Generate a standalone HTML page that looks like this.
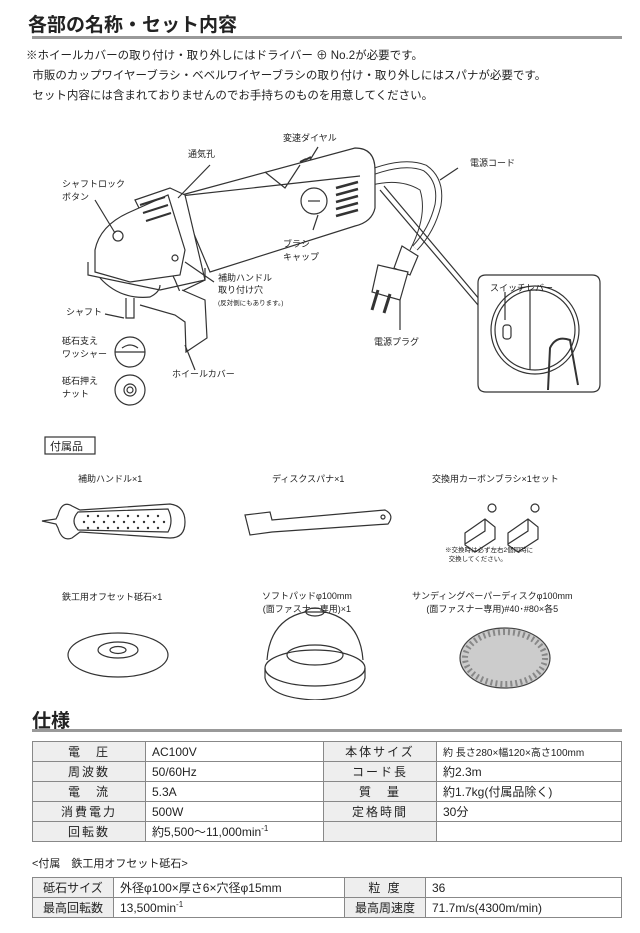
<!DOCTYPE html>
<html><head><meta charset="utf-8"><style>
body{margin:0;background:#fff;width:640px;height:933px;overflow:hidden;font-family:"Liberation Sans","Noto Sans CJK JP",sans-serif;color:#222}
.a{position:absolute;white-space:nowrap}
table{position:absolute;border-collapse:collapse;font-size:12px}
td{border:1px solid #888;height:19px;padding:0 6px}
td.h{background:#eee;text-align:center;letter-spacing:2px}
</style></head><body>
<div class="a" style="left:28px;top:10px;font-size:19px;font-weight:bold">各部の名称・セット内容</div>
<div class="a" style="left:32px;top:36px;width:590px;height:3px;background:#999"></div>
<div class="a" style="left:26px;top:46px;font-size:11.5px;line-height:20px">※ホイールカバーの取り付け・取り外しにはドライバー ⊕ No.2が必要です。<br>&nbsp;&nbsp;市販のカップワイヤーブラシ・ベベルワイヤーブラシの取り付け・取り外しにはスパナが必要です。<br>&nbsp;&nbsp;セット内容には含まれておりませんのでお手持ちのものを用意してください。</div>

<svg class="a" style="left:0;top:0" width="640" height="700" fill="none" stroke="#333" stroke-width="1.2">
<!-- cord -->
<path d="M372 172 Q405 160 425 168 Q442 180 438 205 Q432 230 415 248" stroke-width="7" stroke="#333"/>
<path d="M372 172 Q405 160 425 168 Q442 180 438 205 Q432 230 415 248" stroke-width="5" stroke="#fff"/>
<path d="M372 185 Q400 178 420 190 Q428 215 410 250" stroke-width="1"/>
<!-- plug -->
<path d="M402 246 L418 256 L410 275 L394 268 Z" fill="#fff"/>
<path d="M378 265 L408 272 L400 300 L372 292 Z" fill="#fff"/>
<path d="M378 290 L372 310 M390 294 L384 313" stroke-width="3"/>
<!-- body -->
<path d="M178 196 L355 148 Q375 148 375 170 L375 208 Q372 222 355 226 L210 272 Z" fill="#fff"/>
<path d="M265 172 L285 188 L300 165 M180 196 L360 176"/>
<path d="M300 162 l6 -3 M305 160 l6 -3" stroke-width="2"/>
<!-- head -->
<path d="M135 200 L170 188 L185 195 L205 280 L180 292 L175 280 Z" fill="#fff"/>
<path d="M95 250 Q100 225 130 212 L168 195 L185 250 L180 275 L130 282 L95 272 Z" fill="#fff"/>
<path d="M88 262 L88 275 L160 290 L205 280 L205 268" fill="none"/>
<path d="M100 278 Q120 300 150 297 Q160 292 160 285"/>
<path d="M140 205 l25 -8 M143 213 l25 -8 M146 221 l25 -8" stroke-width="2"/>
<circle cx="118" cy="236" r="5"/><circle cx="175" cy="258" r="3"/>
<path d="M182 290 L205 300 L207 338 L186 352 L185 322 L175 315 L140 305" fill="#fff"/>
<path d="M126 298 L126 318 L134 318 L134 298" fill="#fff"/>
<circle cx="314" cy="201" r="13" fill="#fff"/><path d="M308 201h12"/>
<path d="M336 188 l22 -6 M336 195 l22 -6 M336 202 l22 -6 M336 209 l22 -6 M336 216 l22 -6" stroke-width="2.5"/>
<path d="M384 186 L480 300 M380 190 L478 305"/>
<path d="M478 305 L478 283 Q478 275 486 275 L592 275 Q600 275 600 283 L600 384 Q600 392 592 392 L486 392 Q478 392 478 384 Z" fill="#fff"/>
<circle cx="535" cy="330" r="44"/><circle cx="535" cy="330" r="40"/>
<path d="M530 290 L530 370"/>
<path d="M548 390 L550 348 Q556 335 570 340 L578 385" stroke-width="2"/>
<rect x="503" y="325" width="8" height="14" rx="3"/>
<!-- leaders -->
<path d="M95 200 L115 233 M210 165 L178 198 M318 147 L310 160 M458 168 L440 180 M313 230 L318 215 M214 282 L185 262 M105 314 L124 318 M195 370 L185 345 M400 330 L400 300 M505 292 L505 320"/>
<!-- washers -->
<circle cx="130" cy="352" r="15" fill="#fff"/><path d="M115 352h30 M122 348 q8 -6 16 0"/>
<circle cx="130" cy="390" r="15" fill="#fff"/><circle cx="130" cy="390" r="6"/><circle cx="130" cy="390" r="3"/>
<!-- accessories -->
<path d="M42 521 L56 519 L58 515 Q62 500 72 506 L80 510 L170 504 Q185 506 185 522 Q185 538 170 538 L80 532 L72 538 Q62 542 58 528 L56 524 Z" fill="#fff"/>
<path d="M78 512 L168 509 Q174 521 168 532 L78 530 Q70 521 78 512 Z"/>
<g fill="#333" stroke="none">
<circle cx="88" cy="516" r="1.2"/><circle cx="98" cy="516" r="1.2"/><circle cx="108" cy="516" r="1.2"/><circle cx="118" cy="516" r="1.2"/><circle cx="128" cy="516" r="1.2"/><circle cx="138" cy="516" r="1.2"/><circle cx="148" cy="516" r="1.2"/><circle cx="158" cy="516" r="1.2"/>
<circle cx="84" cy="522" r="1.2"/><circle cx="94" cy="522" r="1.2"/><circle cx="104" cy="522" r="1.2"/><circle cx="114" cy="522" r="1.2"/><circle cx="124" cy="522" r="1.2"/><circle cx="134" cy="522" r="1.2"/><circle cx="144" cy="522" r="1.2"/><circle cx="154" cy="522" r="1.2"/><circle cx="164" cy="522" r="1.2"/>
<circle cx="88" cy="528" r="1.2"/><circle cx="98" cy="528" r="1.2"/><circle cx="108" cy="528" r="1.2"/><circle cx="118" cy="528" r="1.2"/><circle cx="128" cy="528" r="1.2"/><circle cx="138" cy="528" r="1.2"/><circle cx="148" cy="528" r="1.2"/><circle cx="158" cy="528" r="1.2"/>
</g>
<path d="M245 515 L270 512 L272 520 L385 510 Q395 515 388 524 L272 532 L250 535 Z" fill="#fff"/>
<circle cx="383" cy="517" r="2"/>
<path d="M465 533 l20 -14 l10 8 l0 12 l-20 13 l-10 -7 z M485 519 l0 12 l-20 13 M508 533 l20 -14 l10 8 l0 12 l-20 13 l-10 -7 z M528 519 l0 12 l-20 13" fill="#fff"/>
<circle cx="492" cy="508" r="4"/><circle cx="535" cy="508" r="4"/>
<ellipse cx="118" cy="655" rx="50" ry="22" fill="#fff"/><ellipse cx="118" cy="650" rx="20" ry="8"/><ellipse cx="118" cy="650" rx="8" ry="3.5"/>
<path d="M267 660 Q270 620 305 612 L325 612 Q360 620 363 660" fill="#fff"/>
<ellipse cx="315" cy="668" rx="50" ry="18" fill="#fff"/><path d="M265 668 L265 678 Q270 698 315 700 Q360 698 365 678 L365 668"/>
<ellipse cx="315" cy="612" rx="9" ry="4"/><ellipse cx="315" cy="655" rx="28" ry="10"/>
<ellipse cx="505" cy="658" rx="45" ry="30" fill="#ccc" stroke="#444"/>
<ellipse cx="505" cy="658" rx="40" ry="26" fill="none" stroke="#888" stroke-width="6" stroke-dasharray="2 3"/>
<rect x="45" y="437" width="50" height="17" stroke="#333"/>
</svg>
<div class="a" style="font-size:9px;left:283px;top:131px">変速ダイヤル</div>
<div class="a" style="font-size:9px;left:188px;top:147px">通気孔</div>
<div class="a" style="font-size:9px;left:62px;top:178px;line-height:13px">シャフトロック<br>ボタン</div>
<div class="a" style="font-size:9px;left:470px;top:156px">電源コード</div>
<div class="a" style="font-size:9px;left:283px;top:238px;line-height:13px">ブラシ<br>キャップ</div>
<div class="a" style="font-size:9px;left:218px;top:272px;line-height:12px">補助ハンドル<br>取り付け穴<br><span style="font-size:6.5px">(反対側にもあります。)</span></div>
<div class="a" style="font-size:9px;left:66px;top:305px">シャフト</div>
<div class="a" style="font-size:9px;left:374px;top:335px">電源プラグ</div>
<div class="a" style="font-size:9px;left:490px;top:281px">スイッチレバー</div>
<div class="a" style="font-size:9px;left:62px;top:335px;line-height:13px">砥石支え<br>ワッシャー</div>
<div class="a" style="font-size:9px;left:62px;top:375px;line-height:13px">砥石押え<br>ナット</div>
<div class="a" style="font-size:9px;left:172px;top:367px">ホイールカバー</div>
<div class="a" style="font-size:11px;left:50px;top:438px">付属品</div>
<div class="a" style="font-size:9px;left:78px;top:472px">補助ハンドル×1</div>
<div class="a" style="font-size:9px;left:272px;top:472px">ディスクスパナ×1</div>
<div class="a" style="font-size:9px;left:432px;top:472px">交換用カーボンブラシ×1セット</div>
<div class="a" style="font-size:6.5px;left:445px;top:546px;line-height:9px">※交換時は必ず左右2個同時に<br>&nbsp;&nbsp;交換してください。</div>
<div class="a" style="font-size:9px;left:62px;top:590px">鉄工用オフセット砥石×1</div>
<div class="a" style="font-size:9px;left:262px;top:590px;line-height:13px;text-align:center">ソフトパッドφ100mm<br>(面ファスナー専用)×1</div>
<div class="a" style="font-size:9px;left:412px;top:590px;line-height:13px;text-align:center">サンディングペーパーディスクφ100mm<br>(面ファスナー専用)#40･#80×各5</div>

<div class="a" style="left:32px;top:706px;font-size:19px;font-weight:bold">仕様</div>
<div class="a" style="left:32px;top:729px;width:590px;height:3px;background:#999"></div>
<table style="left:32px;top:741px;width:590px">
<tr><td class="h" style="width:100px">電　圧</td><td style="width:165px">AC100V</td><td class="h" style="width:100px">本体サイズ</td><td style="font-size:10px">約 長さ280×幅120×高さ100mm</td></tr>
<tr><td class="h">周波数</td><td>50/60Hz</td><td class="h">コード長</td><td>約2.3m</td></tr>
<tr><td class="h">電　流</td><td>5.3A</td><td class="h">質　量</td><td>約1.7kg(付属品除く)</td></tr>
<tr><td class="h">消費電力</td><td>500W</td><td class="h">定格時間</td><td>30分</td></tr>
<tr><td class="h">回転数</td><td>約5,500～11,000min<sup style="font-size:8px">-1</sup></td><td class="h"></td><td></td></tr>
</table>
<div class="a" style="left:32px;top:855px;font-size:11px">&lt;付属　鉄工用オフセット砥石&gt;</div>
<table style="left:32px;top:877px;width:590px">
<tr><td class="h" style="width:68px;letter-spacing:0">砥石サイズ</td><td style="width:218px">外径φ100×厚さ6×穴径φ15mm</td><td class="h" style="width:68px">粒 度</td><td>36</td></tr>
<tr><td class="h" style="letter-spacing:0">最高回転数</td><td>13,500min<sup style="font-size:8px">-1</sup></td><td class="h" style="letter-spacing:0">最高周速度</td><td>71.7m/s(4300m/min)</td></tr>
</table>
</body></html>
